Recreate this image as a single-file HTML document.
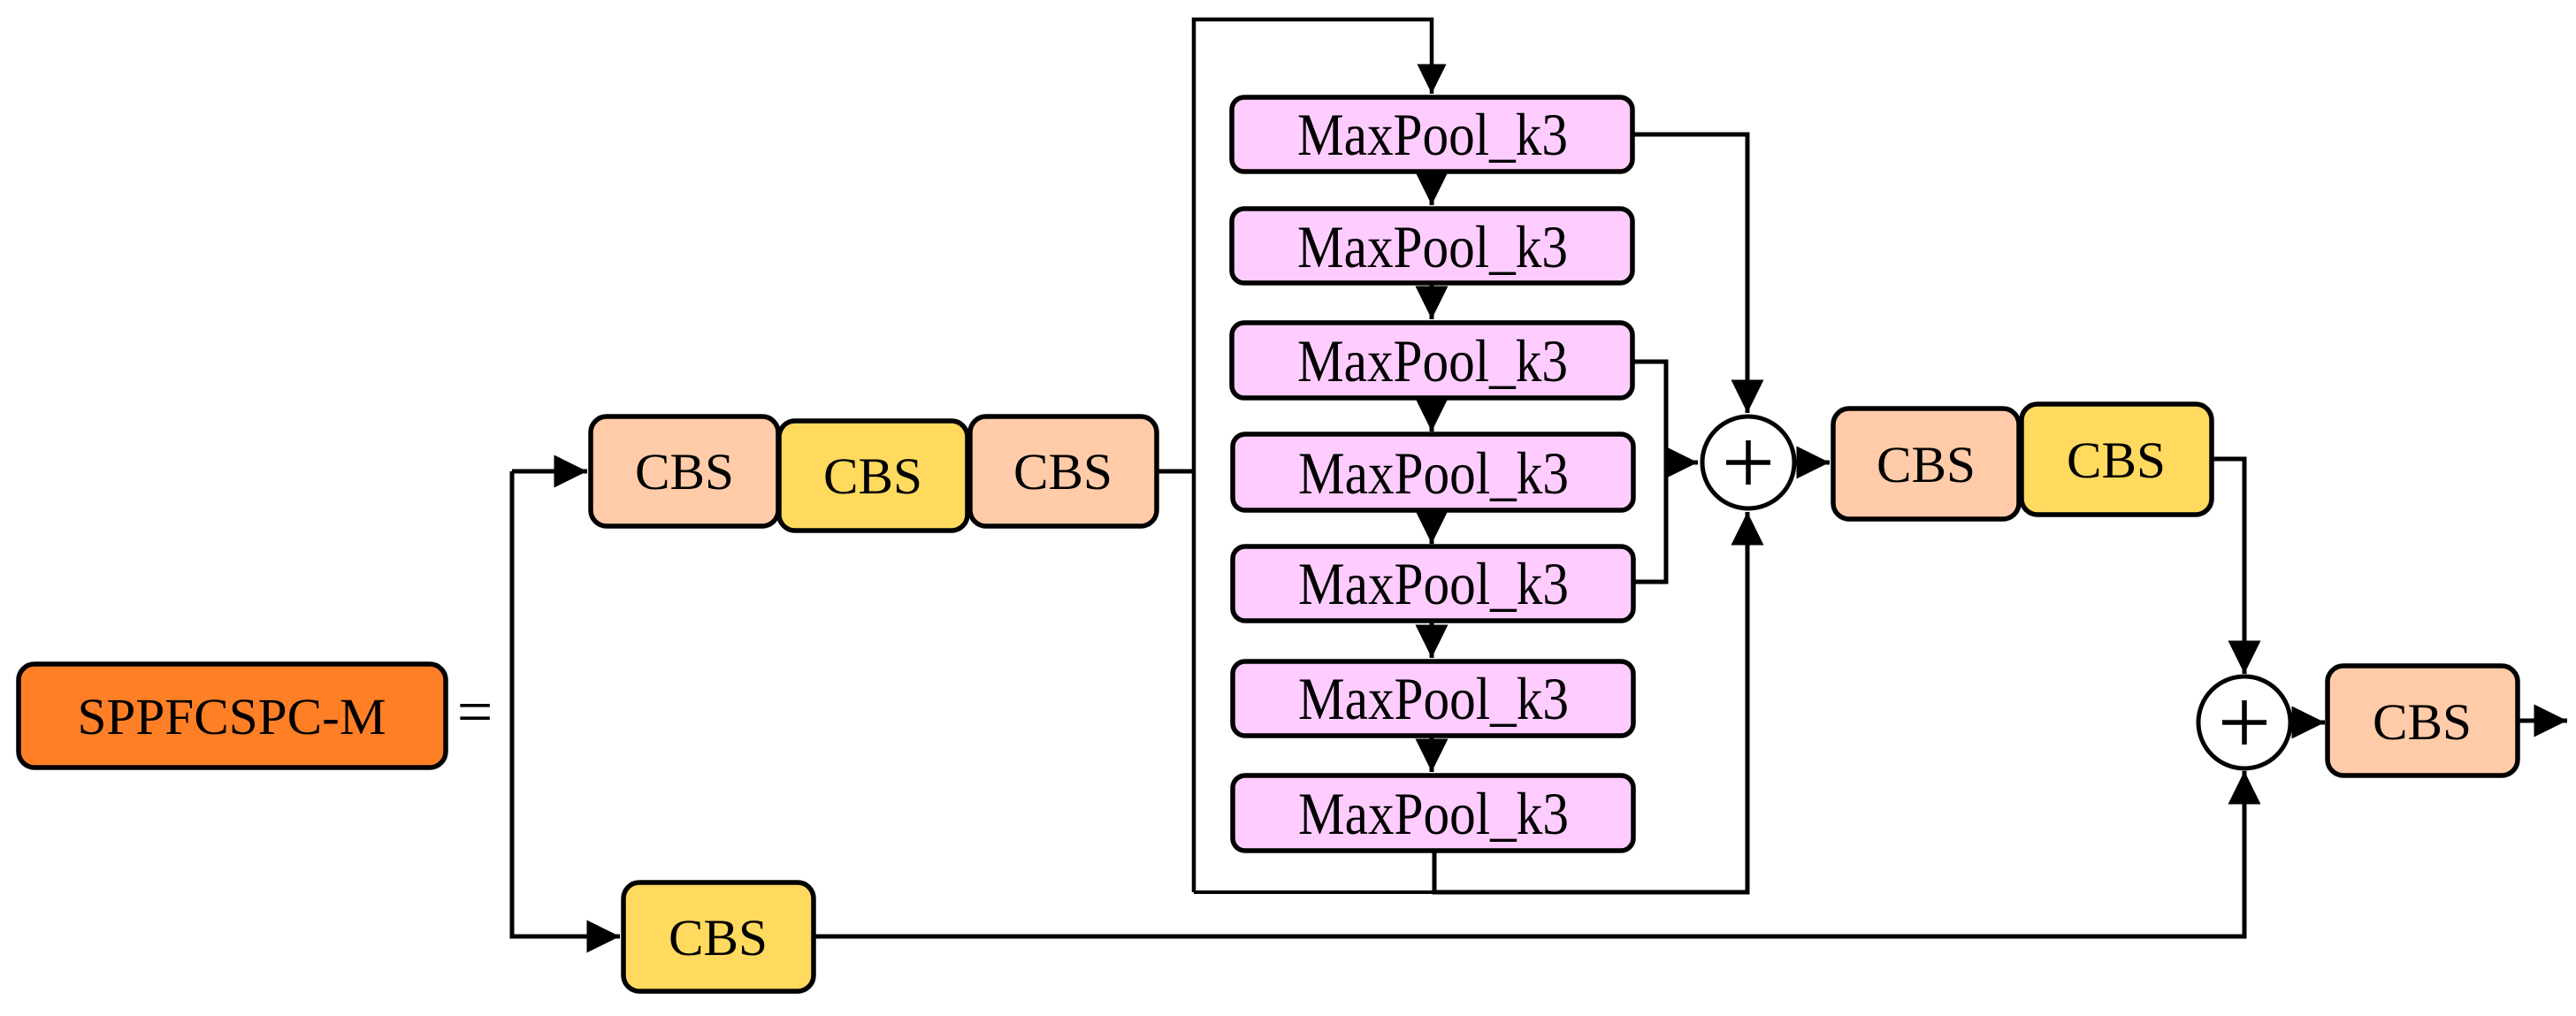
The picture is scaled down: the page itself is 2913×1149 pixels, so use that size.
<!DOCTYPE html>
<html><head><meta charset="utf-8"><style>html,body{margin:0;padding:0;background:#fff}svg{display:block}text{font-family:"Liberation Serif","DejaVu Serif",serif}</style></head>
<body>
<svg width="2913" height="1149" viewBox="0 0 2913 1149" xmlns="http://www.w3.org/2000/svg">
<defs>
<marker id="a" markerWidth="8" markerHeight="8" refX="7.5" refY="4" orient="auto" markerUnits="strokeWidth"><path d="M0,0.3 L7.5,4 L0,7.7 z" fill="#000"/></marker>
</defs>
<g fill="none" stroke="#000" stroke-width="5">
<polyline points="579,533 579,1059 701,1059" marker-end="url(#a)"/>
<polyline points="579,533 664,533" marker-end="url(#a)"/>
<line x1="1308" y1="533" x2="1350" y2="533"/>
<polyline points="1350,1009 1350,22 1619,22 1619,106" marker-end="url(#a)" stroke-width="4.5"/>
<line x1="1350" y1="1009" x2="1622" y2="1009" stroke-width="4"/>
<line x1="1619" y1="194" x2="1619" y2="232" marker-end="url(#a)"/>
<line x1="1619" y1="320" x2="1619" y2="361" marker-end="url(#a)"/>
<line x1="1619" y1="450" x2="1619" y2="488" marker-end="url(#a)"/>
<line x1="1619" y1="577" x2="1619" y2="615" marker-end="url(#a)"/>
<line x1="1619" y1="702" x2="1619" y2="744" marker-end="url(#a)"/>
<line x1="1619" y1="832" x2="1619" y2="873" marker-end="url(#a)"/>
<polyline points="1846,152 1976,152 1976,467" marker-end="url(#a)"/>
<polyline points="1846,409 1884,409 1884,658 1846,658"/>
<line x1="1884" y1="523" x2="1920" y2="523" marker-end="url(#a)"/>
<polyline points="1622,962 1622,1009 1976,1009 1976,579" marker-end="url(#a)"/>
<line x1="2029" y1="523" x2="2069" y2="523" marker-end="url(#a)"/>
<polyline points="2501,519 2538,519 2538,762" marker-end="url(#a)"/>
<polyline points="920,1059 2538,1059 2538,872" marker-end="url(#a)"/>
<line x1="2591" y1="817" x2="2629" y2="817" marker-end="url(#a)"/>
<line x1="2847" y1="815" x2="2903" y2="815" marker-end="url(#a)"/>
<circle cx="1977" cy="523" r="52" fill="#fff"/>
<path d="M1952,523 H2002 M1977,498 V548" stroke-width="5.5"/>
<circle cx="2538" cy="817" r="52" fill="#fff"/>
<path d="M2513,817 H2563 M2538,792 V842" stroke-width="5.5"/>
</g>
<g stroke="#000" stroke-width="5.5">
<rect x="21" y="751" width="483" height="117" rx="18" fill="#FF7F27"/>
<rect x="668" y="471" width="212" height="124" rx="18" fill="#FFCBA8"/>
<rect x="881" y="476" width="213" height="124" rx="18" fill="#FFDA5E"/>
<rect x="1097" y="471" width="211" height="124" rx="18" fill="#FFCBA8"/>
<rect x="705" y="998" width="215" height="123" rx="18" fill="#FFDA5E"/>
<rect x="2073" y="462" width="210" height="125" rx="18" fill="#FFCBA8"/>
<rect x="2286" y="457" width="215" height="125" rx="18" fill="#FFDA5E"/>
<rect x="2632" y="753" width="215" height="124" rx="18" fill="#FFCBA8"/>
<g fill="#FFCCFF">
<rect x="1393" y="110" width="453" height="84" rx="14"/>
<rect x="1393" y="236" width="453" height="84" rx="14"/>
<rect x="1393" y="365" width="453" height="85" rx="14"/>
<rect x="1394" y="491" width="453" height="86" rx="14"/>
<rect x="1394" y="618" width="453" height="84" rx="14"/>
<rect x="1394" y="748" width="453" height="84" rx="14"/>
<rect x="1394" y="877" width="453" height="85" rx="14"/>
</g>
</g>
<g font-size="58" text-anchor="middle" fill="#000">
<text x="262" y="830" textLength="349" lengthAdjust="spacingAndGlyphs">SPPFCSPC-M</text>
<text x="537" y="829" font-size="72">=</text>
<text x="774" y="553" textLength="112" lengthAdjust="spacingAndGlyphs">CBS</text>
<text x="987" y="558" textLength="112" lengthAdjust="spacingAndGlyphs">CBS</text>
<text x="1202" y="553" textLength="112" lengthAdjust="spacingAndGlyphs">CBS</text>
<text x="812" y="1080" textLength="112" lengthAdjust="spacingAndGlyphs">CBS</text>
<text x="2178" y="545" textLength="112" lengthAdjust="spacingAndGlyphs">CBS</text>
<text x="2393" y="540" textLength="112" lengthAdjust="spacingAndGlyphs">CBS</text>
<text x="2739" y="836" textLength="112" lengthAdjust="spacingAndGlyphs">CBS</text>
</g>
<g font-size="68" text-anchor="middle" fill="#000">
<text x="1620" y="175" textLength="306" lengthAdjust="spacingAndGlyphs">MaxPool_k3</text>
<text x="1620" y="302" textLength="306" lengthAdjust="spacingAndGlyphs">MaxPool_k3</text>
<text x="1620" y="431" textLength="306" lengthAdjust="spacingAndGlyphs">MaxPool_k3</text>
<text x="1621" y="558" textLength="306" lengthAdjust="spacingAndGlyphs">MaxPool_k3</text>
<text x="1621" y="683" textLength="306" lengthAdjust="spacingAndGlyphs">MaxPool_k3</text>
<text x="1621" y="813" textLength="306" lengthAdjust="spacingAndGlyphs">MaxPool_k3</text>
<text x="1621" y="943" textLength="306" lengthAdjust="spacingAndGlyphs">MaxPool_k3</text>
</g>
</svg>
</body></html>
